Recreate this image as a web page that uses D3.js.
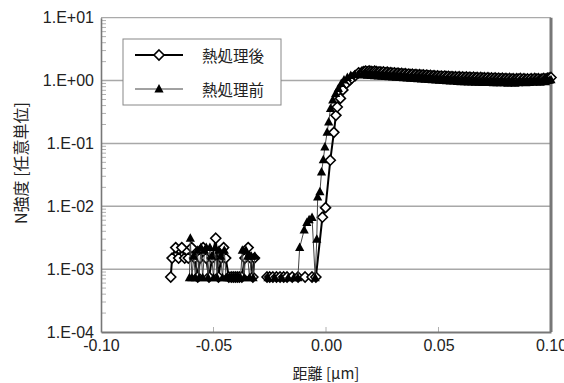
<!DOCTYPE html>
<html>
<head>
<meta charset="utf-8">
<script src="https://cdnjs.cloudflare.com/ajax/libs/d3/7.8.5/d3.min.js"></script>
<style>
  body { margin: 0; background: #fff; }
  svg { display: block; }
  .tick text { font-family: "Liberation Sans", Arial, sans-serif; font-size: 16px; fill: #222; }
  .cjk { font-family: "Noto Sans CJK JP", sans-serif; fill: #222; }
</style>
</head>
<body>
<svg id="chart" width="564" height="383"></svg>
<script>
// ---- data ----
var seriesNames = ["熱処理後", "熱処理前"];

var yTickValues = [1e-4, 1e-3, 1e-2, 1e-1, 1, 10];
var yTickLabels = ["1.E-04", "1.E-03", "1.E-02", "1.E-01", "1.E+00", "1.E+01"];
var xTickValues = [-0.1, -0.05, 0, 0.05, 0.1];
var xTickLabels = ["-0.10", "-0.05", "0.00", "0.05", "0.10"];

// after heat treatment (diamonds), low + rise part
var afterLowX = [-0.0690, -0.0684, -0.0668, -0.0655, -0.0641, -0.0628, -0.0612, -0.0597, -0.0584, -0.0570,
  -0.0560, -0.0546, -0.0533, -0.0520, -0.0506, -0.0490, -0.0478, -0.0466, -0.0455, -0.0446,
  -0.0432, -0.0421, -0.0412, -0.0403, -0.0394, -0.0385, -0.0374, -0.0360, -0.0346, -0.0335,
  -0.0325, -0.0318, -0.0290, -0.0262, -0.0250, -0.0236, -0.0220, -0.0204, -0.0188, -0.0173,
  -0.0150, -0.0124, -0.0093, -0.0062, -0.0045, -0.0016, -0.0002, 0.0019, 0.0035, 0.0044,
  0.0050, 0.0064, 0.0075, 0.0091, 0.0105, 0.0115, 0.0130, 0.0145];
var afterLowY = [7.5e-4, 1.5e-3, 2.2e-3, 1.5e-3, 2.2e-3, 1.5e-3, 1.5e-3, 2.2e-3, 1.5e-3, 7.5e-4,
  1.5e-3, 2.2e-3, 1.5e-3, 7.5e-4, 1.5e-3, 3.1e-3, 7.5e-4, 1.5e-3, 2.2e-3, 1.5e-3,
  7.5e-4, 7.5e-4, 7.5e-4, 7.5e-4, 7.5e-4, 7.5e-4, 7.5e-4, 1.5e-3, 2.2e-3, 1.5e-3,
  7.5e-4, 1.5e-3, null, 7.5e-4, 7.5e-4, 7.5e-4, 7.5e-4, 7.5e-4, 7.5e-4, 7.5e-4,
  7.5e-4, 7.5e-4, 7.5e-4, 7.5e-4, 7.5e-4, 6.7e-3, 9.5e-3, 5.4e-2, 0.15, 0.28,
  0.38, 0.52, 0.71, 0.90, 1.02, 1.09, 1.20, 1.33];

// before heat treatment (triangles), low + rise part
var beforeLowX = [-0.0607, -0.0603, -0.0596, -0.0588, -0.0580, -0.0572, -0.0564, -0.0556, -0.0548, -0.0540,
  -0.0532, -0.0524, -0.0516, -0.0508, -0.0500, -0.0492, -0.0484, -0.0476, -0.0468, -0.0460,
  -0.0452, -0.0444, -0.0436, -0.0428, -0.0420, -0.0412, -0.0404, -0.0396, -0.0388, -0.0380,
  -0.0372, -0.0364, -0.0356, -0.0348, -0.0340, -0.0332, -0.0324, -0.0316, -0.0290, -0.0258,
  -0.0228, -0.0198, -0.0168, -0.0143, -0.0125, -0.0117, -0.0097, -0.0085, -0.0075, -0.0062,
  -0.0048, -0.0041, -0.0037, -0.0027, -0.0020, -0.0012, -0.0005, 0.0005, 0.0012, 0.0020,
  0.0030, 0.0043, 0.0055, 0.0068, 0.0080, 0.0095, 0.0110, 0.0128, 0.0144];
var beforeLowY = [7.3e-4, 3.1e-3, 7.3e-4, 1.6e-3, 7.3e-4, 2.0e-3, 7.3e-4, 2.2e-3, 7.3e-4, 2.0e-3,
  2.2e-3, 7.3e-4, 2.2e-3, 1.6e-3, 7.3e-4, 2.2e-3, 7.3e-4, 2.0e-3, 1.6e-3, 7.3e-4,
  2.0e-3, 7.3e-4, 7.3e-4, 7.3e-4, 7.3e-4, 7.3e-4, 7.3e-4, 7.3e-4, 7.3e-4, 7.3e-4,
  2.0e-3, 7.3e-4, 2.0e-3, 1.6e-3, 7.3e-4, 1.6e-3, 7.3e-4, 1.6e-3, null, 7.3e-4,
  7.3e-4, 7.3e-4, 7.3e-4, 7.3e-4, 7.3e-4, 2.2e-3, 4.2e-3, 5.5e-3, 6.1e-3, 6.6e-3,
  7.3e-4, 3.0e-3, 1.4e-2, 1.7e-2, 3.5e-2, 5.5e-2, 8.8e-2, 0.15, 0.22, 0.36,
  0.49, 0.62, 0.75, 0.90, 1.02, 1.12, 1.20, 1.24, 1.25];

// plateau part, shared x positions (dense sampling)
var plateauX = [0.0160, 0.0168, 0.0176, 0.0184, 0.0192, 0.0200, 0.0208, 0.0216, 0.0224, 0.0232,
  0.0240, 0.0248, 0.0256, 0.0264, 0.0272, 0.0280, 0.0288, 0.0296, 0.0304, 0.0312,
  0.0320, 0.0328, 0.0336, 0.0344, 0.0352, 0.0360, 0.0368, 0.0376, 0.0384, 0.0392,
  0.0400, 0.0408, 0.0416, 0.0424, 0.0432, 0.0440, 0.0448, 0.0456, 0.0464, 0.0472,
  0.0480, 0.0488, 0.0496, 0.0504, 0.0512, 0.0520, 0.0528, 0.0536, 0.0544, 0.0552,
  0.0560, 0.0568, 0.0576, 0.0584, 0.0592, 0.0600, 0.0608, 0.0616, 0.0624, 0.0632,
  0.0640, 0.0648, 0.0656, 0.0664, 0.0672, 0.0680, 0.0688, 0.0696, 0.0704, 0.0712,
  0.0720, 0.0728, 0.0736, 0.0744, 0.0752, 0.0760, 0.0768, 0.0776, 0.0784, 0.0792,
  0.0800, 0.0808, 0.0816, 0.0824, 0.0832, 0.0840, 0.0848, 0.0856, 0.0864, 0.0872,
  0.0880, 0.0888, 0.0896, 0.0904, 0.0912, 0.0920, 0.0928, 0.0936, 0.0944, 0.0952,
  0.0960, 0.0968, 0.0976, 0.0984, 0.0992, 0.1000];
var afterPlateauY = [1.36, 1.39, 1.41, 1.38, 1.42, 1.40, 1.37, 1.41, 1.39, 1.36,
  1.38, 1.35, 1.37, 1.33, 1.36, 1.32, 1.34, 1.30, 1.33, 1.29,
  1.31, 1.28, 1.30, 1.26, 1.29, 1.25, 1.27, 1.24, 1.26, 1.23,
  1.25, 1.22, 1.24, 1.21, 1.23, 1.20, 1.22, 1.19, 1.21, 1.18,
  1.20, 1.17, 1.19, 1.16, 1.18, 1.15, 1.18, 1.15, 1.17, 1.14,
  1.16, 1.13, 1.15, 1.12, 1.15, 1.12, 1.14, 1.11, 1.14, 1.11,
  1.13, 1.10, 1.13, 1.10, 1.12, 1.09, 1.12, 1.09, 1.11, 1.08,
  1.11, 1.08, 1.10, 1.07, 1.10, 1.07, 1.09, 1.06, 1.09, 1.06,
  1.08, 1.05, 1.08, 1.05, 1.07, 1.04, 1.07, 1.05, 1.08, 1.04,
  1.07, 1.04, 1.06, 1.03, 1.07, 1.04, 1.08, 1.05, 1.07, 1.04,
  1.06, 1.08, 1.05, 1.09, 1.10, 1.12];
var beforePlateauY = [1.25, 1.23, 1.26, 1.22, 1.24, 1.20, 1.22, 1.19, 1.21, 1.18,
  1.20, 1.17, 1.19, 1.16, 1.18, 1.15, 1.17, 1.14, 1.16, 1.13,
  1.15, 1.12, 1.14, 1.11, 1.13, 1.10, 1.12, 1.09, 1.11, 1.08,
  1.10, 1.07, 1.09, 1.06, 1.08, 1.05, 1.07, 1.04, 1.06, 1.03,
  1.05, 1.02, 1.04, 1.01, 1.03, 1.00, 1.02, 0.99, 1.01, 0.98,
  1.01, 0.98, 1.00, 0.97, 0.99, 0.96, 0.99, 0.96, 0.98, 0.95,
  0.98, 0.95, 0.97, 0.94, 0.97, 0.94, 0.96, 0.93, 0.96, 0.93,
  0.96, 0.93, 0.95, 0.92, 0.95, 0.92, 0.94, 0.92, 0.95, 0.92,
  0.94, 0.91, 0.94, 0.92, 0.95, 0.91, 0.94, 0.92, 0.95, 0.93,
  0.96, 0.92, 0.95, 0.93, 0.97, 0.94, 0.98, 0.95, 0.97, 0.94,
  0.97, 0.99, 0.96, 1.00, 1.01, 1.03];

var afterX = afterLowX.concat(plateauX), afterY = afterLowY.concat(afterPlateauY);
var beforeX = beforeLowX.concat(plateauX), beforeY = beforeLowY.concat(beforePlateauY);

// ---- drawing ----
var svg = d3.select("#chart");
var plotL = 101, plotR = 551, plotT = 17.7, plotB = 332;

var x = d3.scaleLinear().domain([-0.1, 0.1]).range([plotL, plotR]);
var y = d3.scaleLog().domain([1e-4, 10]).range([plotB, plotT]);

// gridlines
svg.append("g").selectAll("line")
  .data(yTickValues.slice(1, 5))
  .enter().append("line")
  .attr("x1", plotL).attr("x2", plotR)
  .attr("y1", d => y(d)).attr("y2", d => y(d))
  .attr("stroke", "#a8a8a8").attr("stroke-width", 1.5);

// minor ticks on left axis
var minor = [];
yTickValues.slice(0, 5).forEach(d => { for (var k = 2; k <= 9; k++) minor.push(d * k); });
svg.append("g").selectAll("line")
  .data(minor)
  .enter().append("line")
  .attr("x1", plotL).attr("x2", plotL + 5)
  .attr("y1", d => y(d)).attr("y2", d => y(d))
  .attr("stroke", "#b0b0b0").attr("stroke-width", 1);

// x inside ticks
svg.append("g").selectAll("line")
  .data(xTickValues.slice(1, 4))
  .enter().append("line")
  .attr("x1", d => x(d)).attr("x2", d => x(d))
  .attr("y1", plotB).attr("y2", plotB - 5)
  .attr("stroke", "#b0b0b0").attr("stroke-width", 1);

// frame
svg.append("line").attr("x1", plotL).attr("x2", plotR).attr("y1", plotT).attr("y2", plotT)
  .attr("stroke", "#aaa").attr("stroke-width", 1.2);
svg.append("line").attr("x1", plotR).attr("x2", plotR).attr("y1", plotT).attr("y2", plotB)
  .attr("stroke", "#777").attr("stroke-width", 3);

// axes (labels)
var yAxis = d3.axisLeft(y).tickValues(yTickValues)
  .tickFormat((d, i) => yTickLabels[i]).tickSize(0).tickPadding(7);
svg.append("g").attr("transform", "translate(" + plotL + ",0)").call(yAxis)
  .call(g => g.select(".domain").attr("stroke", "#777").attr("stroke-width", 1.6));

var xAxis = d3.axisBottom(x).tickValues(xTickValues)
  .tickFormat((d, i) => xTickLabels[i]).tickSize(0).tickPadding(8);
svg.append("g").attr("transform", "translate(0," + plotB + ")").call(xAxis)
  .call(g => g.select(".domain").attr("stroke", "#777").attr("stroke-width", 2));

// axis titles
svg.append("text").attr("class", "cjk")
  .attr("x", 326).attr("y", 379).attr("text-anchor", "middle")
  .attr("font-size", 15).text("距離 [μm]");
svg.append("text").attr("class", "cjk")
  .attr("transform", "translate(27,163) rotate(-90)")
  .attr("text-anchor", "middle").attr("font-size", 16).text("N強度 [任意単位]");

// series
var diamond = "M0,-5L5,0L0,5L-5,0Z";
var triangle = "M0,-5L4.6,3.5L-4.6,3.5Z";

function pts(xs, ys) { return xs.map((v, i) => [v, ys[i]]); }
var afterPts = pts(afterX, afterY), beforePts = pts(beforeX, beforeY);

var line = d3.line().defined(d => d[1] != null).x(d => x(d[0])).y(d => y(d[1]));

// after (diamonds) drawn first, before (triangles) on top
svg.append("path").datum(afterPts).attr("d", line)
  .attr("fill", "none").attr("stroke", "#000").attr("stroke-width", 2);
svg.append("g").selectAll("path")
  .data(afterPts.filter(d => d[1] != null))
  .enter().append("path")
  .attr("d", diamond)
  .attr("transform", d => "translate(" + x(d[0]) + "," + y(d[1]) + ")")
  .attr("fill", "#fff").attr("stroke", "#000").attr("stroke-width", 1.6);

svg.append("path").datum(beforePts).attr("d", line)
  .attr("fill", "none").attr("stroke", "#444").attr("stroke-width", 1);
svg.append("g").selectAll("path")
  .data(beforePts.filter(d => d[1] != null))
  .enter().append("path")
  .attr("d", triangle)
  .attr("transform", d => "translate(" + x(d[0]) + "," + y(d[1]) + ")")
  .attr("fill", "#000");

// legend
var lg = svg.append("g");
lg.append("rect").attr("x", 123).attr("y", 39).attr("width", 158).attr("height", 66)
  .attr("fill", "#fff").attr("stroke", "#888").attr("stroke-width", 1);
lg.append("line").attr("x1", 135).attr("x2", 183).attr("y1", 55).attr("y2", 55)
  .attr("stroke", "#000").attr("stroke-width", 2);
lg.append("path").attr("d", diamond).attr("transform", "translate(159,55)")
  .attr("fill", "#fff").attr("stroke", "#000").attr("stroke-width", 1.6);
lg.append("line").attr("x1", 135).attr("x2", 183).attr("y1", 89).attr("y2", 89)
  .attr("stroke", "#444").attr("stroke-width", 1);
lg.append("path").attr("d", triangle).attr("transform", "translate(159,89)").attr("fill", "#000");
lg.selectAll("text.leg").data(seriesNames).enter().append("text")
  .attr("class", "cjk leg").attr("x", 202).attr("y", (d, i) => 62 + i * 34)
  .attr("font-size", 15.5).text(d => d);
</script>
</body>
</html>
